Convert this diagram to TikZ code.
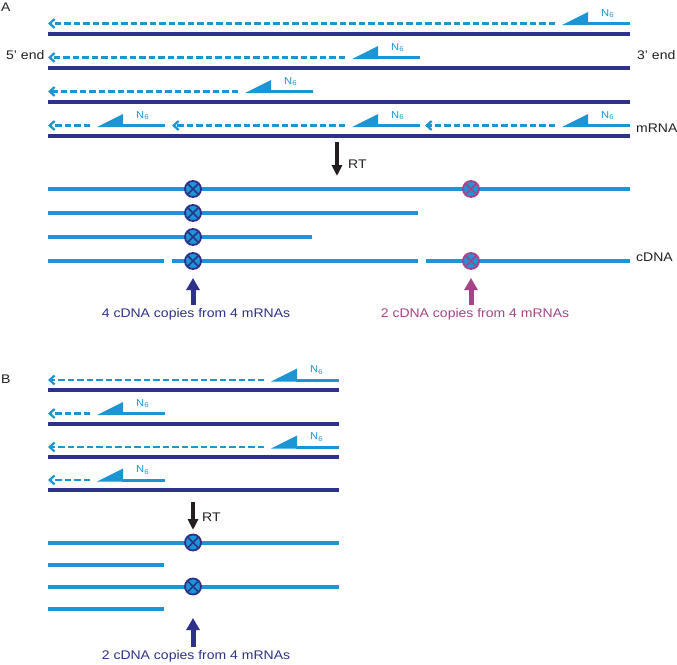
\documentclass[tikz,border=0pt]{standalone}
\usepackage{fontspec}
\setmainfont[FakeStretch=1.12]{Liberation Sans}
\usetikzlibrary{arrows.meta}
\definecolor{dblue}{RGB}{46,49,140}
\definecolor{lblue}{RGB}{27,149,211}
\definecolor{pinkc}{RGB}{166,68,135}
\definecolor{ink}{RGB}{35,31,32}
\begin{document}
\begin{tikzpicture}[x=1pt,y=-1pt,
  mrna/.style={draw=dblue, line width=4pt},
  cdna/.style={draw=lblue, line width=4pt},
  ext/.style={draw=lblue, line width=2.2pt, dash pattern=on 6.5pt off 3pt, -{Straight Barb[length=5pt,width=9pt]}},
  lab/.style={inner sep=0pt, font=\fontsize{12.5}{14}\selectfont, text=ink},
  n6/.style={inner sep=0pt, anchor=base west, font=\fontsize{10}{12}\selectfont, text=lblue},
  mut/.style={circle, draw=#1, fill=lblue, line width=1.8pt, minimum size=16pt, inner sep=0pt,
    path picture={\draw[#1, line width=1.5pt]
      (path picture bounding box.north west) -- (path picture bounding box.south east)
      (path picture bounding box.north east) -- (path picture bounding box.south west);}},
  upar/.style={line width=5pt, -{Triangle[length=12pt,width=13pt]}},
  rtar/.style={draw=ink, line width=4pt, -{Triangle[length=11pt,width=10pt]}},
  primer/.pic={
    \fill[lblue] (0,1.5) -- (26,1.5) -- (26,-11.5) -- cycle;
    \fill[lblue] (25,-1.5) rectangle (68,1.5);
    \node[n6] (-lab) at (39,-7.5) {N\textsubscript{6}};
  }]
\useasboundingbox (0,0) rectangle (677,664);

% ---------------- Panel A ----------------
\node[lab, anchor=base west] (labA) at (1,11.5) {A};
\node[lab, anchor=base west] (end5) at (6,59.5) {5' end};
\node[lab, anchor=base west] (end3) at (637,59.5) {3' end};
\node[lab, anchor=base west] (mrnaA) at (636,132.5) {mRNA};

% mRNA strands
\foreach \i/\y in {1/33.5,2/67.5,3/101.5,4/135.5}{
  \coordinate (mA\i l) at (48,\y);
  \coordinate (mA\i r) at (630,\y);
  \draw[mrna] (mA\i l) -- (mA\i r);
}

% primers and extensions
\pic (pA1) at (562,23.5) {primer};
\coordinate (dA1s) at (555,23.5); \coordinate (dA1e) at (48,23.5);
\draw[ext] (dA1s) -- (dA1e);

\pic (pA2) at (352,57.5) {primer};
\coordinate (dA2s) at (345,57.5); \coordinate (dA2e) at (48,57.5);
\draw[ext] (dA2s) -- (dA2e);

\pic (pA3) at (245,91.5) {primer};
\coordinate (dA3s) at (238,91.5); \coordinate (dA3e) at (48,91.5);
\draw[ext] (dA3s) -- (dA3e);

\pic (pA4a) at (97,125.5) {primer};
\pic (pA4b) at (352,125.5) {primer};
\pic (pA4c) at (562,125.5) {primer};
\coordinate (dA4as) at (90,125.5); \coordinate (dA4ae) at (48,125.5);
\coordinate (dA4bs) at (345,125.5); \coordinate (dA4be) at (172,125.5);
\coordinate (dA4cs) at (555,125.5); \coordinate (dA4ce) at (425,125.5);
\draw[ext] (dA4as) -- (dA4ae);
\draw[ext] (dA4bs) -- (dA4be);
\draw[ext] (dA4cs) -- (dA4ce);

% RT arrow
\coordinate (rtA1) at (337,142);
\coordinate (rtA2) at (337,176);
\draw[rtar] (rtA1) -- (rtA2);
\node[lab, anchor=base west] (rtAl) at (348,168.5) {RT};

% cDNA strands
\coordinate (cA1l) at (48,189); \coordinate (cA1r) at (630,189);
\draw[cdna] (cA1l) -- (cA1r);
\coordinate (cA2l) at (48,213); \coordinate (cA2r) at (418,213);
\draw[cdna] (cA2l) -- (cA2r);
\coordinate (cA3l) at (48,237); \coordinate (cA3r) at (312,237);
\draw[cdna] (cA3l) -- (cA3r);
\coordinate (cA4a) at (48,261); \coordinate (cA4b) at (164,261);
\coordinate (cA4c) at (172,261); \coordinate (cA4d) at (418,261);
\coordinate (cA4e) at (426,261); \coordinate (cA4f) at (630,261);
\draw[cdna] (cA4a) -- (cA4b) (cA4c) -- (cA4d) (cA4e) -- (cA4f);
\node[lab, anchor=base west] (cdnaA) at (636,261) {cDNA};

\node[mut=dblue] (xA1) at (193,189) {};
\node[mut=dblue] (xA2) at (193,213) {};
\node[mut=dblue] (xA3) at (193,237) {};
\node[mut=dblue] (xA4) at (193,261) {};
\node[mut=pinkc] (yA1) at (471,189) {};
\node[mut=pinkc] (yA4) at (471,261) {};

\coordinate (uA1s) at (193,305); \coordinate (uA1e) at (193,278);
\draw[upar, dblue] (uA1s) -- (uA1e);
\coordinate (uA2s) at (471,305); \coordinate (uA2e) at (471,278);
\draw[upar, pinkc] (uA2s) -- (uA2e);
\node[lab, anchor=base, text=dblue] (tA1) at (196,317) {4 cDNA copies from 4 mRNAs};
\node[lab, anchor=base, text=pinkc] (tA2) at (475,317) {2 cDNA copies from 4 mRNAs};

% ---------------- Panel B ----------------
\node[lab, anchor=base west] (labB) at (1,383) {B};

\foreach \i/\y in {1/390,2/423.5,3/457,4/490}{
  \coordinate (mB\i l) at (48,\y);
  \coordinate (mB\i r) at (339,\y);
  \draw[mrna] (mB\i l) -- (mB\i r);
}

\pic (pB1) at (271,380) {primer};
\coordinate (dB1s) at (264,380); \coordinate (dB1e) at (48,380);
\draw[ext] (dB1s) -- (dB1e);
\pic (pB2) at (97,413.5) {primer};
\coordinate (dB2s) at (90,413.5); \coordinate (dB2e) at (48,413.5);
\draw[ext] (dB2s) -- (dB2e);
\pic (pB3) at (271,447) {primer};
\coordinate (dB3s) at (264,447); \coordinate (dB3e) at (48,447);
\draw[ext] (dB3s) -- (dB3e);
\pic (pB4) at (97,480) {primer};
\coordinate (dB4s) at (90,480); \coordinate (dB4e) at (48,480);
\draw[ext] (dB4s) -- (dB4e);

\coordinate (rtB1) at (193,502);
\coordinate (rtB2) at (193,530);
\draw[rtar] (rtB1) -- (rtB2);
\node[lab, anchor=base west] (rtBl) at (202,521.5) {RT};

\coordinate (cB1l) at (48,542.5); \coordinate (cB1r) at (339,542.5);
\draw[cdna] (cB1l) -- (cB1r);
\coordinate (cB2l) at (48,564.5); \coordinate (cB2r) at (164,564.5);
\draw[cdna] (cB2l) -- (cB2r);
\coordinate (cB3l) at (48,586.5); \coordinate (cB3r) at (339,586.5);
\draw[cdna] (cB3l) -- (cB3r);
\coordinate (cB4l) at (48,608.5); \coordinate (cB4r) at (164,608.5);
\draw[cdna] (cB4l) -- (cB4r);

\node[mut=dblue] (xB1) at (193,542.5) {};
\node[mut=dblue] (xB3) at (193,586.5) {};

\coordinate (uBs) at (193,647); \coordinate (uBe) at (193,618);
\draw[upar, dblue] (uBs) -- (uBe);
\node[lab, anchor=base, text=dblue] (tB) at (196,659) {2 cDNA copies from 4 mRNAs};
\end{tikzpicture}
\end{document}
